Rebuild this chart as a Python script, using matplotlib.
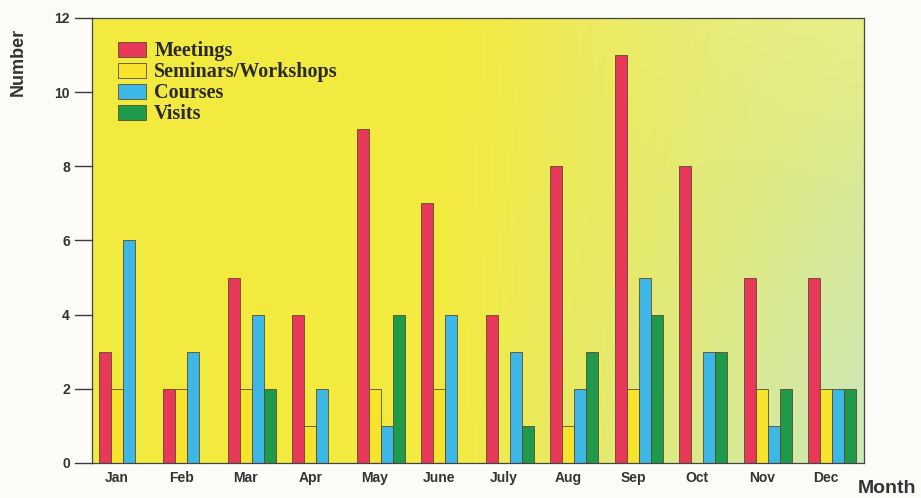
import matplotlib.pyplot as plt
from matplotlib.lines import Line2D
import numpy as np

months = ['Jan', 'Feb', 'Mar', 'Apr', 'May', 'June', 'July', 'Aug', 'Sep', 'Oct', 'Nov', 'Dec']
meetings = [3, 2, 5, 4, 9, 7, 4, 8, 11, 8, 5, 5]
seminars = [2, 2, 2, 1, 2, 2, 0, 1, 2, 0, 2, 2]
courses = [6, 3, 4, 2, 1, 4, 3, 2, 5, 3, 1, 2]
visits = [0, 0, 2, 0, 4, 0, 1, 3, 4, 3, 2, 2]

series = [('Meetings', meetings, '#e8385a'),
          ('Seminars/Workshops', seminars, '#f7e22c'),
          ('Courses', courses, '#3db8e6'),
          ('Visits', visits, '#1f9a4a')]

fig = plt.figure(figsize=(9.21, 4.98), dpi=100)
fig.patch.set_facecolor('#fbfbf8')
ax_left, ax_bottom, ax_right, ax_top = 0.0999, 0.0703, 0.938, 0.9639
ax = fig.add_axes([ax_left, ax_bottom, ax_right - ax_left, ax_top - ax_bottom])

x = np.arange(len(months))
w = 0.186
xlim = (-0.48, 11.49)
ylim = (0, 12)
yticks = list(range(0, 13, 2))

# gradient background: yellow at left, pale green/cyan at lower right
nx, ny = 200, 100
gx = np.linspace(0, 1, nx)[None, :]
gy = np.linspace(0, 1, ny)[:, None]  # 0 = bottom
t = np.clip((gx - 0.45) * 1.6, 0, 1) * (0.55 + 0.45 * (1 - gy))
t = np.clip(t, 0, 1)
yellow = np.array([0.955, 0.92, 0.25])
green = np.array([0.78, 0.91, 0.80])
top_light = np.array([0.93, 0.94, 0.55])
img = yellow[None, None, :] * (1 - t[..., None]) + green[None, None, :] * t[..., None]
s = np.clip((gx - 0.55) * 1.5, 0, 1) * np.clip((gy - 0.6) * 2.5, 0, 1)
img = img * (1 - s[..., None]) + top_light[None, None, :] * s[..., None]
ax.imshow(img, extent=[xlim[0], xlim[1], ylim[0], ylim[1]], origin='lower',
          aspect='auto', zorder=0)

for k, (name, vals, color) in enumerate(series):
    ax.bar(x + (k - 1.5) * w, vals, w, color=color, edgecolor='#5a4a30',
           linewidth=0.6, label=name, zorder=2)

ax.set_xlim(*xlim)
ax.set_ylim(*ylim)
ax.set_yticks(yticks)
ax.set_xticks(x - 0.5 * w)
ax.set_xticklabels(months)
ax.tick_params(axis='x', length=0, pad=6)
ax.tick_params(axis='y', length=0, pad=16)
for lab in ax.get_xticklabels() + ax.get_yticklabels():
    lab.set_fontfamily('Liberation Sans')
    lab.set_fontweight('bold')
    lab.set_fontsize(10)
    lab.set_color('#333333')
for sp in ax.spines.values():
    sp.set_color('#444444')
    sp.set_linewidth(0.9)

# outward tick marks drawn at figure level (top and bottom double as spine run-outs)
tick_len = 17 / 921
for yv in yticks:
    fy = ax_bottom + (yv - ylim[0]) / (ylim[1] - ylim[0]) * (ax_top - ax_bottom)
    fig.add_artist(Line2D([ax_left - tick_len, ax_left], [fy, fy],
                          transform=fig.transFigure, color='#3a3a3a', linewidth=1.0))

fig.text(18 / 921, 1 - 62 / 498, 'Number', rotation=90, ha='center', va='center',
         fontfamily='Liberation Sans', fontweight='bold', fontsize=13, color='#333333')
fig.text(887 / 921, 1 - 488 / 498, 'Month', ha='center', va='center',
         fontfamily='Liberation Sans', fontweight='bold', fontsize=14, color='#333333')

leg = ax.legend(loc='upper left', bbox_to_anchor=(0.018, 0.975), frameon=False,
                prop={'family': 'Liberation Serif', 'weight': 'bold', 'size': 14.5},
                handlelength=1.4, handleheight=0.75, handletextpad=0.4,
                labelspacing=0.05, borderaxespad=0.2)
for txt in leg.get_texts():
    txt.set_color('#2a2a2a')

fig.savefig('out.png', dpi=100, facecolor=fig.get_facecolor())
